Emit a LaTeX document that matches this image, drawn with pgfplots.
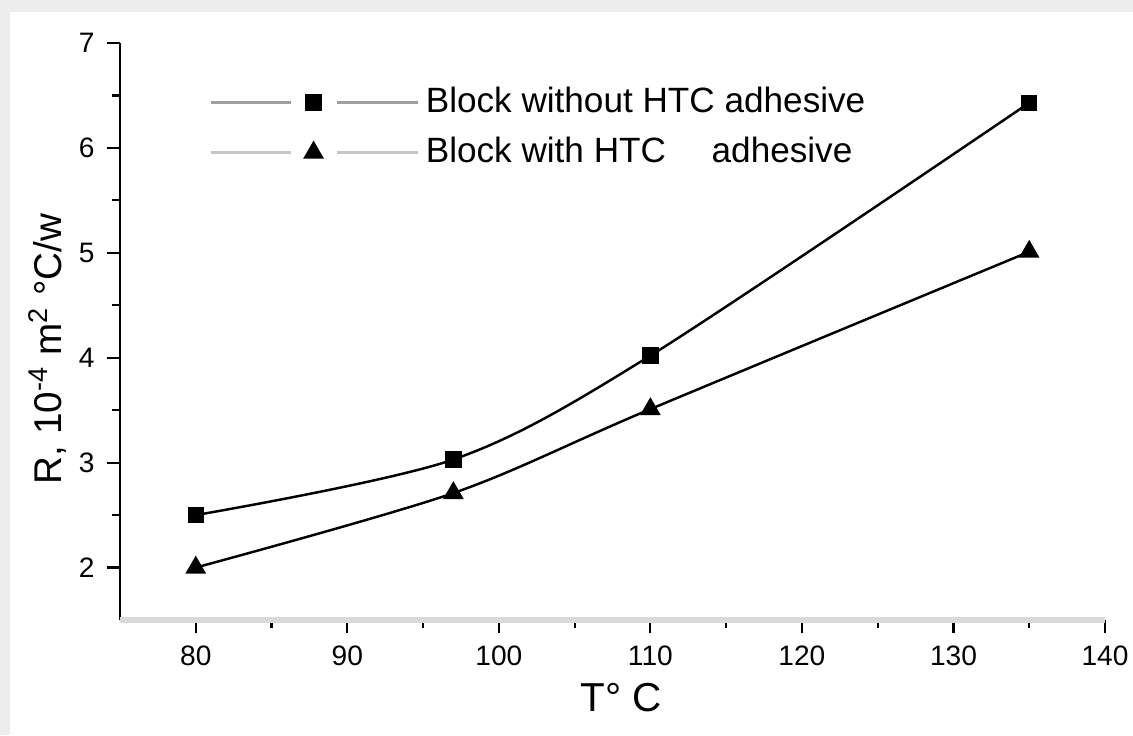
\documentclass[border=0pt]{standalone}
\usepackage{fontspec}
\setmainfont{Liberation Sans}
\usepackage{pgfplots}
\pgfplotsset{compat=1.18}

\begin{document}
\begin{tikzpicture}
\path[use as bounding box] (0,0) rectangle (11.33cm,7.35cm);
% page frame with the faint shadow at top and left
\fill[gray!14] (0,0) rectangle (11.33cm,7.35cm);
\fill[white] (0.1cm,0) rectangle (11.33cm,7.23cm);
\begin{axis}[
  name=ax,
  at={(1.2cm,1.15cm)}, anchor=south west,
  scale only axis, width=9.85cm, height=5.77cm,
  xmin=75, xmax=140, ymin=1.5, ymax=7,
  xtick={80,90,...,140}, ytick={2,3,...,7},
  minor x tick num=1, minor y tick num=1,
  axis x line*=bottom, axis y line*=left,
  y axis line style={draw=black, line width=0.7pt},
  tick align=outside,
  major tick length=0.13cm, minor tick length=0.08cm,
  tick style={black, line width=0.6pt},
  /pgf/number format/assume math mode=true,
  ticklabel style={font=\fontsize{8}{9}\selectfont},
  xlabel={T° C},
  ylabel={R, 10\textsuperscript{-4} m\textsuperscript{2} °C/w},
  xlabel style={font=\fontsize{11.5}{13}\selectfont, at={(axis description cs:0.509,-0.135)}, anchor=center},
  ylabel style={font=\fontsize{11}{13}\selectfont, at={(axis description cs:-0.074,0.47)}, anchor=center},
  legend style={draw=none, fill=none, at={(axis description cs:0.09,0.937)}, anchor=north west,
    font=\fontsize{10}{11}\selectfont, row sep=1.5pt, inner sep=0pt},
  legend cell align=left,
]
\addplot[black, line width=0.7pt, smooth, mark=square*, mark size=2pt, mark options={solid},
  legend image code/.code={
    \draw[gray!75, line width=0.7pt] (0cm,0cm) -- (0.8cm,0cm);
    \draw[gray!75, line width=0.7pt] (1.26cm,0cm) -- (2.07cm,0cm);
    \draw[black, mark=square*, mark size=2pt] plot coordinates {(1.03cm,0cm)};}]
  coordinates {(80,2.50) (97,3.03) (110,4.02) (135,6.43)};
\addlegendentry{Block without HTC adhesive}
\addplot[black, line width=0.7pt, smooth, mark=triangle*, mark size=2.7pt, mark options={solid},
  legend image code/.code={
    \draw[gray!45, line width=0.7pt] (0cm,0cm) -- (0.8cm,0cm);
    \draw[gray!45, line width=0.7pt] (1.26cm,0cm) -- (2.07cm,0cm);
    \draw[black, mark=triangle*, mark size=2.7pt] plot coordinates {(1.03cm,0cm)};}]
  coordinates {(80,2.00) (97,2.71) (110,3.51) (135,5.01)};
\addlegendentry{Block with HTC\hspace{1.3em}adhesive}
\end{axis}
% light grey bottom spine as in the original
\draw[gray!30, line width=1.8pt] (ax.south west) -- (ax.south east);
\end{tikzpicture}
\end{document}
